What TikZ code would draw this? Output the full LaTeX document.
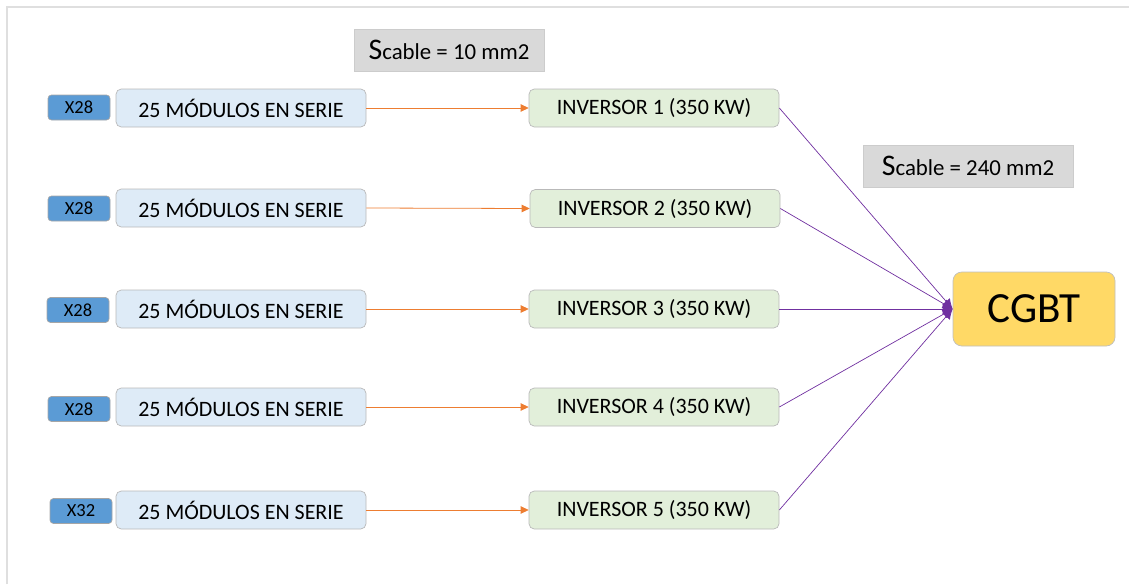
\documentclass[tikz,border=0pt]{standalone}
\usepackage{fontspec}
\setmainfont{Carlito}
\usetikzlibrary{arrows.meta,positioning}

\definecolor{badgeblue}{HTML}{5B9BD5}
\definecolor{modblue}{HTML}{DEEBF7}
\definecolor{invgreen}{HTML}{E2EFDA}
\definecolor{cgbtyellow}{HTML}{FFD966}
\definecolor{cableorange}{HTML}{ED7D31}
\definecolor{cablepurple}{HTML}{7030A0}

\begin{document}
\begin{tikzpicture}[
      badge/.style={draw=gray!70, rounded corners=2pt, minimum width=1.24cm,
        minimum height=0.5cm, fill=badgeblue, font=\fontsize{10.5}{12}\selectfont},
      module/.style={draw=gray!55, rounded corners=3pt, minimum width=5.0cm,
        minimum height=0.76cm, fill=modblue, font=\fontsize{12.5}{15}\selectfont},
      inversor/.style={module, fill=invgreen},
      cable/.style={draw=gray!40, fill=gray!30, minimum height=0.84cm,
        font=\fontsize{13}{15}\selectfont},
      dc/.style={-{Triangle[length=1.6mm, width=1.5mm]}, line width=0.45pt, draw=cableorange},
      ac/.style={-{Latex[length=2mm, width=2mm]}, line width=0.4pt, draw=cablepurple}
    ]
    \useasboundingbox (0,0) rectangle (22.58,11.68);

    % frame
    \draw[gray!25, line width=0.8pt] (0.14,0) -- (0.14,11.54) -- (22.58,11.54);

    % strings
    \node[badge] (x1) at (1.58,9.53) {X28};
    \node[badge] (x2) at (1.58,7.51) {X28};
    \node[badge] (x3) at (1.56,5.48) {X28};
    \node[badge] (x4) at (1.58,3.50) {X28};
    \node[badge] (x5) at (1.62,1.46) {X32};

    \node[module] (s1) at (4.82,9.52) {25 MÓDULOS EN SERIE};
    \node[module] (s2) at (4.82,7.52) {25 MÓDULOS EN SERIE};
    \node[module] (s3) at (4.82,5.50) {25 MÓDULOS EN SERIE};
    \node[module] (s4) at (4.82,3.54) {25 MÓDULOS EN SERIE};
    \node[module] (s5) at (4.82,1.48) {25 MÓDULOS EN SERIE};

    % inverters
    \node[inversor] (i1) at (13.08,9.52) {INVERSOR 1 (350 KW)};
    \node[inversor] (i2) at (13.10,7.51) {INVERSOR 2 (350 KW)};
    \node[inversor] (i3) at (13.08,5.50) {INVERSOR 3 (350 KW)};
    \node[inversor] (i4) at (13.08,3.54) {INVERSOR 4 (350 KW)};
    \node[inversor] (i5) at (13.08,1.48) {INVERSOR 5 (350 KW)};

    \node[draw=gray!50, rounded corners=5pt, fill=cgbtyellow, minimum width=3.24cm,
      minimum height=1.48cm, font=\fontsize{24.5}{28}\selectfont] (cgbt) at (20.68,5.50) {CGBT};

    % cable sections
    \node[cable, minimum width=3.8cm] (sdc) at (8.98,10.68)
      {{\fontsize{17}{15}\selectfont S}cable = 10 mm2};
    \node[cable, minimum width=4.2cm] (sac) at (19.36,8.36)
      {{\fontsize{17}{15}\selectfont S}cable = 240 mm2};

    \draw[dc] (s1.east) -- (i1.west);
    \draw[dc] (s2.east) -- (i2.west);
    \draw[dc] (s3.east) -- (i3.west);
    \draw[dc] (s4.east) -- (i4.west);
    \draw[dc] (s5.east) -- (i5.west);

    \draw[ac] (i1.east) -- (cgbt.west);
    \draw[ac] (i2.east) -- (cgbt.west);
    \draw[ac] (i3.east) -- (cgbt.west);
    \draw[ac] (i4.east) -- (cgbt.west);
    \draw[ac] (i5.east) -- (cgbt.west);
  \end{tikzpicture}
\end{document}
